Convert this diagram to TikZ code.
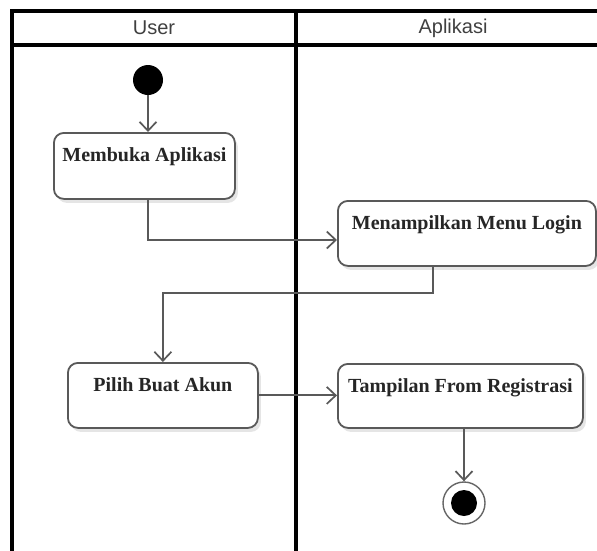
\documentclass[tikz,border=0pt]{standalone}
\usepackage{fontspec}
\setmainfont{Liberation Serif}
\newfontfamily\headfont{Liberation Sans}
\usetikzlibrary{arrows.meta,shadows}

\tikzset{
  lane/.style={line width=3.5pt, draw=black},
  headtext/.style={font=\headfont\fontsize{20}{22}\selectfont, text=black!75, inner sep=0pt},
  actbox/.style={draw=black!65, line width=1.8pt, rounded corners=10pt, fill=white,
    font=\bfseries\fontsize{20}{22}\selectfont, text=black!85,
    inner xsep=0pt, inner ysep=0pt, text height=29pt, anchor=north west,
    drop shadow={shadow xshift=3pt, shadow yshift=-4pt, opacity=0.10, fill=black}},
  flow/.style={draw=black!65, line width=1.9pt,
    -{Straight Barb[length=9pt,width=17pt,line width=1.7pt]}},
  startdot/.style={circle, fill=black, inner sep=0pt, minimum size=30pt},
  endring/.style={circle, draw=black!60, line width=1.4pt, fill=white, inner sep=0pt, minimum size=42pt},
  enddot/.style={circle, fill=black, inner sep=0pt, minimum size=26pt},
}

\begin{document}
\begin{tikzpicture}[x=1pt,y=-1pt]
  \useasboundingbox (0,0) rectangle (597,550);
  \fill[white] (0,0) rectangle (597,550);

  % swimlane frame
  \draw[lane] (597,11) -- (12,11) -- (12,552);
  \draw[lane] (12,45) -- (597,45);
  \draw[lane] (296,11) -- (296,552);
  \node[headtext] (hUser) at (154,28) {User};
  \node[headtext] (hApp) at (453,28) {Aplikasi};

  % activities
  \node[actbox, minimum width=181pt, text depth=37pt] (buka) at (53,132) {Membuka Aplikasi};
  \node[actbox, minimum width=258pt, text depth=36pt] (login) at (337,200) {Menampilkan Menu Login};
  \node[actbox, minimum width=190pt, text depth=36pt] (pilih) at (67,362) {Pilih Buat Akun};
  \node[actbox, minimum width=245pt, text depth=35pt] (regis) at (337,363) {Tampilan From Registrasi};

  % initial and final states
  \node[startdot] (start) at (148,80) {};
  \node[endring] (final) at (464,503) {};
  \node[enddot] (finalin) at (final) {};

  % bends of the flows
  \coordinate (b1) at (148,240);
  \coordinate (b2) at (433,293);

  % flows
  \draw[flow] (start.south) -- (start |- buka.north);
  \draw[flow] (start |- buka.south) -- (b1) -- (b1 -| login.west);
  \draw[flow] (b2 |- login.south) -- (b2) -| (pilih.north);
  \draw[flow] (pilih.east) -- (pilih.east -| regis.west);
  \draw[flow] (final |- regis.south) -- (final.north);
\end{tikzpicture}
\end{document}
